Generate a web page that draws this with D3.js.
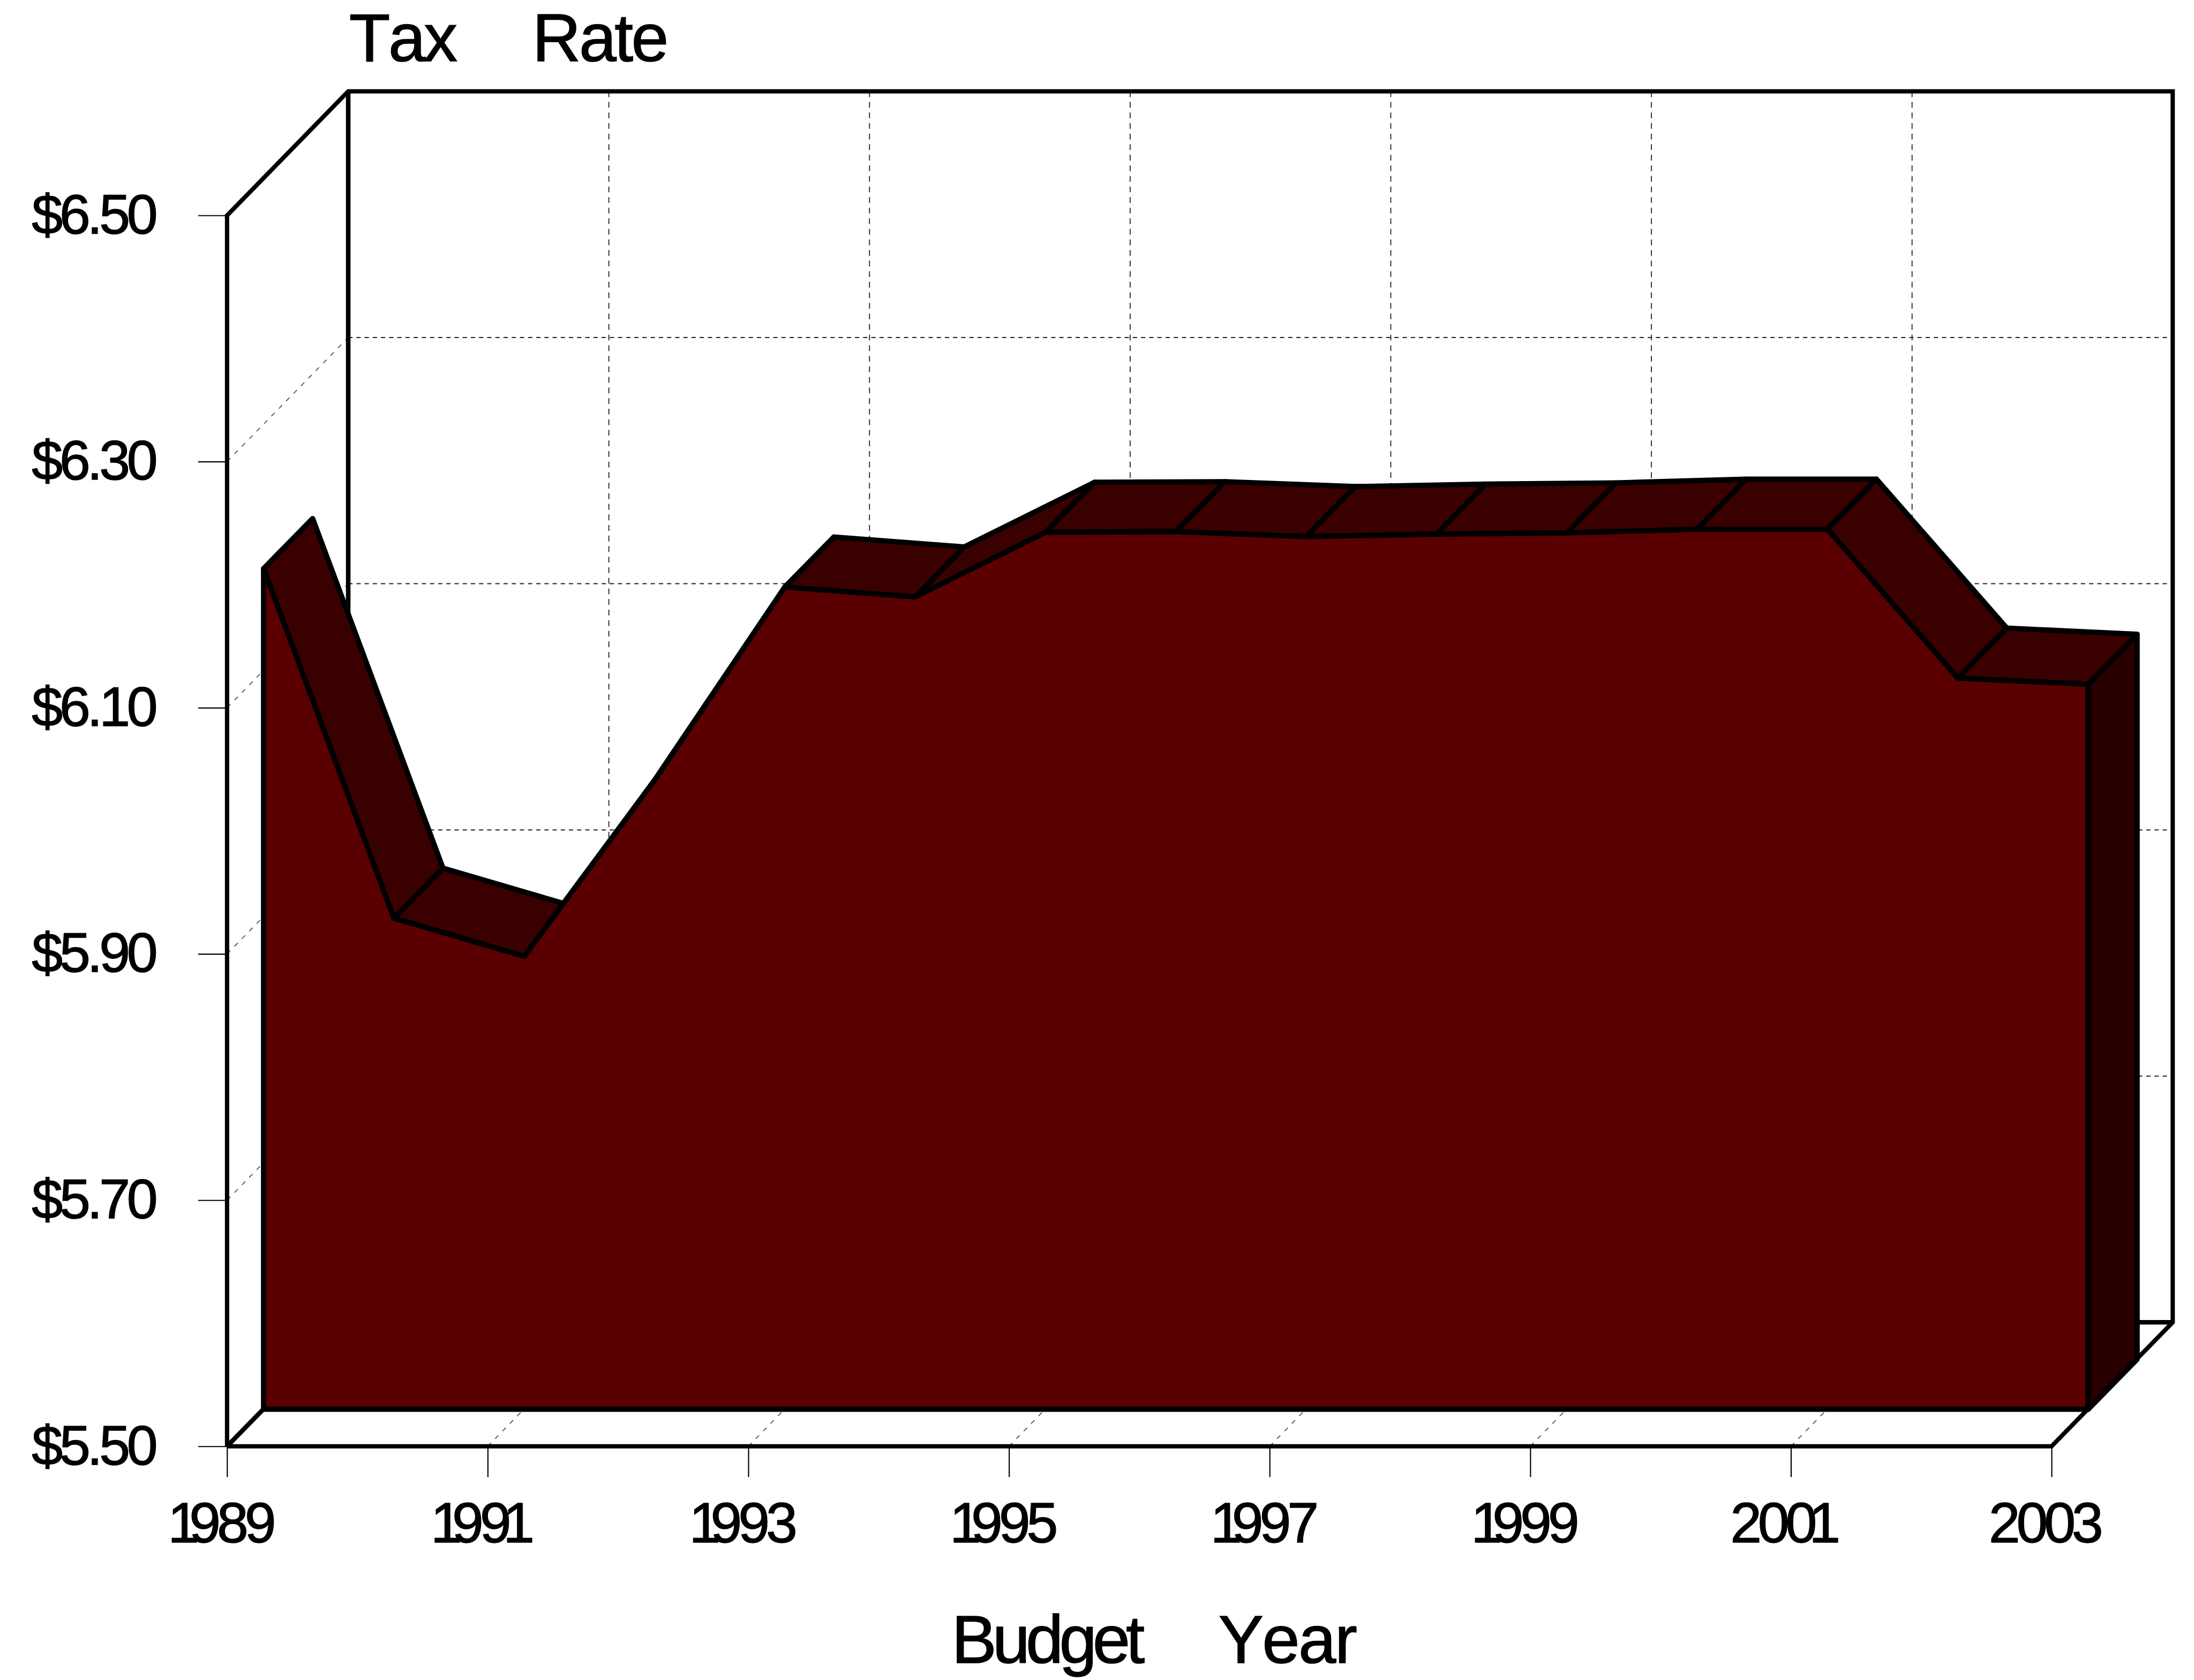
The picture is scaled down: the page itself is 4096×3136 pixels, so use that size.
<!DOCTYPE html>
<html><head><meta charset="utf-8">
<script src="https://cdnjs.cloudflare.com/ajax/libs/d3/7.8.5/d3.min.js"></script>
<style>
html,body{margin:0;padding:0;background:#fff;}
svg{display:block;}
text{font-family:"Liberation Sans",Arial,sans-serif;fill:#000;font-kerning:none;stroke:#000;stroke-width:1.6px;}
</style></head><body>
<svg id="c"></svg>
<script>
const years = [1989,1990,1991,1992,1993,1994,1995,1996,1997,1998,1999,2000,2001,2002,2003];
const taxRates = [6.183,5.899,5.868,6.011,6.168,6.160,6.2125,6.213,6.209,6.211,6.212,6.215,6.215,6.094,6.089];
const yearTicks = [1989,1991,1993,1995,1997,1999,2001,2003];
const rateTicks = [5.5,5.7,5.9,6.1,6.3,6.5];
const yearBase = 5.5;

const W = 4563, H = 3494;
const svg = d3.select('#c').attr('width',4096).attr('height',3136).attr('viewBox',`0 0 ${W} ${H}`);
svg.append('rect').attr('width',W).attr('height',H).attr('fill','#fff');

const x = d3.scaleLinear().domain([1989,2003]).range([472,4267]);
const y = d3.scaleLinear().domain([5.5,6.5]).range([3008,448]);

const wall = {dx:252, dy:-258};     // depth of the whole box
const face = {dx:76,  dy:-77};      // front of the area inside the box
const thick = {dx:102, dy:-104};    // thickness of the area
const path = d3.line().x(p=>p[0]).y(p=>p[1]);
const poly = pts => path(pts)+'Z';
const black = '#000';

// ---- dashed grid
const grid = svg.append('g');
grid.selectAll('.hg').data(rateTicks.slice(1,-1)).join('line')
  .attr('x1',x(1989)+wall.dx).attr('x2',x(2003)+wall.dx)
  .attr('y1',d=>y(d)+wall.dy).attr('y2',d=>y(d)+wall.dy)
  .attr('stroke','#222').attr('stroke-width',2.2).attr('stroke-dasharray','9 8');
grid.selectAll('.vg').data(yearTicks.slice(1,-1)).join('line')
  .attr('x1',d=>x(d)+wall.dx).attr('x2',d=>x(d)+wall.dx)
  .attr('y1',y(6.5)+wall.dy).attr('y2',y(5.5)+wall.dy)
  .attr('stroke','#222').attr('stroke-width',2).attr('stroke-dasharray','12 10');
grid.selectAll('.sg').data(rateTicks.slice(1,-1)).join('line')
  .attr('x1',x(1989)).attr('x2',x(1989)+wall.dx)
  .attr('y1',d=>y(d)).attr('y2',d=>y(d)+wall.dy)
  .attr('stroke','#444').attr('stroke-width',1.8).attr('stroke-dasharray','10 12');
grid.selectAll('.fg').data(yearTicks.slice(1,-1)).join('line')
  .attr('x1',d=>x(d)).attr('x2',d=>x(d)+wall.dx)
  .attr('y1',y(5.5)).attr('y2',y(5.5)+wall.dy)
  .attr('stroke','#444').attr('stroke-width',1.8).attr('stroke-dasharray','10 12');

// ---- box frame
const x0=x(1989), x1=x(2003), yT=y(6.5), yB=y(5.5);
const frame = svg.append('g').attr('fill','none').attr('stroke',black).attr('stroke-width',9.5).attr('stroke-linejoin','miter');
frame.append('path').attr('d',path([[x0,yB],[x0,yT],[x0+wall.dx,yT+wall.dy],[x1+wall.dx,yT+wall.dy],[x1+wall.dx,yB+wall.dy],[x1,yB],[x0,yB]])).attr('stroke-width',9);
frame.append('path').attr('d',path([[x0+wall.dx,yT+wall.dy],[x0+wall.dx,yB+wall.dy],[x1+wall.dx,yB+wall.dy]]));
frame.append('path').attr('d',path([[x0,yB],[x0+wall.dx,yB+wall.dy]]));

// ---- area chart
const pts = years.map((yr,i)=>({yr,v:taxRates[i],fx:x(yr)+face.dx,fy:y(taxRates[i])+face.dy}));
pts.forEach(p=>{p.bx=p.fx+thick.dx;p.by=p.fy+thick.dy;});
const area = svg.append('g').attr('stroke',black).attr('stroke-width',11).attr('stroke-linejoin','round');
area.selectAll('.top').data(d3.pairs(pts)).join('path')
  .attr('fill','#3a0000')
  .attr('d',([a,b])=>poly([[a.fx,a.fy],[b.fx,b.fy],[b.bx,b.by],[a.bx,a.by]]));
const last = pts[pts.length-1];
const baseY = y(yearBase)+face.dy;
area.append('path').attr('fill','#280000')
  .attr('d',poly([[last.fx,last.fy],[last.bx,last.by],[last.bx,baseY+thick.dy],[last.fx,baseY]]));
area.append('path').attr('fill','#5a0000')
  .attr('d',poly([[pts[0].fx,baseY],...pts.map(p=>[p.fx,p.fy]),[last.fx,baseY]]));

// ---- axes
const gapFor = (a,b)=> a==='1' ? -21 : b==='1' ? -17 : -8;
const digitDx = d => { const s=String(d); return [d<2000?-11:-12,...d3.pairs(s.split('')).map(([a,b])=>gapFor(a,b))].join(' '); };
const xAxis = d3.axisBottom(x).tickValues(yearTicks).tickFormat(d3.format('d')).tickSize(64).tickPadding(52);
const gx = svg.append('g').attr('transform',`translate(0,${yB})`).call(xAxis);
gx.select('.domain').remove();
gx.selectAll('.tick line').attr('stroke','#000').attr('stroke-width',2.4);
gx.selectAll('.tick text').attr('font-size',118).attr('font-family','"Liberation Sans"').attr('fill','#000')
  .attr('dy','0.71em').attr('dx',digitDx);

const yAxis = d3.axisLeft(y).tickValues(rateTicks).tickFormat(d=>'$'+d3.format('.2f')(d)).tickSize(60).tickPadding(91);
const gy = svg.append('g').attr('transform',`translate(${x0},0)`).call(yAxis);
gy.select('.domain').remove();
gy.selectAll('.tick line').attr('stroke','#000').attr('stroke-width',2.4);
gy.selectAll('.tick text').attr('font-size',116).attr('font-family','"Liberation Sans"').attr('fill','#000')
  .attr('dy','0.32em').style('letter-spacing','-7px');

// ---- titles
const title = svg.append('text').attr('y',127).attr('font-size',140).style('letter-spacing','-4px');
title.append('tspan').attr('x',726).text('Tax');
title.append('tspan').text(' ');
title.append('tspan').attr('x',1107).style('letter-spacing','-4px').text('Rate');
const xTitle = svg.append('text').attr('y',3458).attr('font-size',141).style('letter-spacing','-9px');
xTitle.append('tspan').attr('x',1979).text('Budget');
xTitle.append('tspan').text(' ');
xTitle.append('tspan').attr('x',2534).style('letter-spacing','-3px').text('Year');
</script>
</body></html>
